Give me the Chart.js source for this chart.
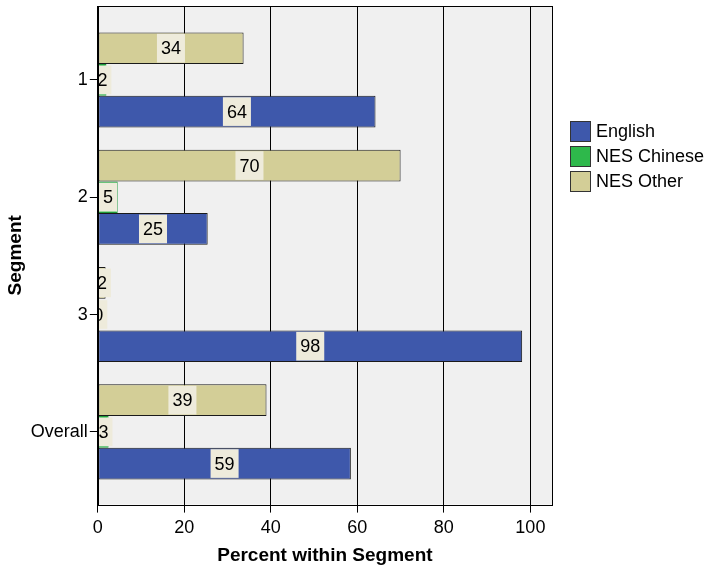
<!DOCTYPE html>
<html>
<head>
<meta charset="utf-8">
<script src="https://cdn.jsdelivr.net/npm/chart.js@4"></script>
<style>
  html, body { margin: 0; padding: 0; background: #fff; }
  #wrap { width: 713px; height: 568px; }
</style>
</head>
<body>
<div id="wrap"><canvas id="segChart"></canvas></div>
<script>
const segments = ["1", "2", "3", "Overall"];
const english = [64.2, 25.4, 98.1, 58.5];
const nesChinese = [2.0, 4.6, 0.1, 2.5];
const nesOther = [33.7, 70.0, 1.8, 39.0];
const xTicks = [0, 20, 40, 60, 80, 100];

const FONT = "'Liberation Sans', Arial, sans-serif";
Chart.defaults.font.family = FONT;
Chart.defaults.font.size = 18;
Chart.defaults.color = "#000";

const toPoints = arr => arr.map((v, i) => ({ x: v, y: i }));

// plot background + frame
const frame = {
    id: "frame",
    beforeDraw(chart) {
        const { ctx, chartArea: a } = chart;
        ctx.save();
        ctx.fillStyle = "#f0f0f0";
        ctx.fillRect(a.left, a.top, a.right - a.left, a.bottom - a.top);
        ctx.restore();
    },
    afterDraw(chart) {
        const { ctx, chartArea: a } = chart;
        ctx.save();
        ctx.strokeStyle = "#000";
        ctx.lineWidth = 1;
        ctx.strokeRect(Math.round(a.left) + 0.5, Math.round(a.top) + 0.5,
            Math.round(a.right - a.left), Math.round(a.bottom - a.top));
        ctx.restore();
    }
};

// value boxes centred on each bar
const valueLabels = {
    id: "valueLabels",
    afterDatasetsDraw(chart) {
        const { ctx, chartArea: a } = chart;
        ctx.save();
        ctx.beginPath();
        ctx.rect(a.left + 1, a.top, a.right - a.left, a.bottom - a.top);
        ctx.clip();
        ctx.font = "18px " + FONT;
        ctx.textAlign = "center";
        ctx.textBaseline = "middle";
        chart.data.datasets.forEach((ds, di) => {
            chart.getDatasetMeta(di).data.forEach((bar, i) => {
                const text = String(Math.round(ds.data[i].x));
                const cx = (bar.x + bar.base) / 2;
                const w = ctx.measureText(text).width + 8;
                const h = bar.height - 3;
                ctx.fillStyle = "#eeebdb";
                ctx.fillRect(cx - w / 2, bar.y - h / 2, w, h);
                ctx.fillStyle = "#000";
                ctx.fillText(text, cx, bar.y + 1);
            });
        });
        ctx.restore();
    }
};

// legend at the right, in reverse dataset order
const sideLegend = {
    id: "sideLegend",
    afterDraw(chart) {
        const { ctx, chartArea: a } = chart;
        const items = chart.data.datasets.slice().reverse();
        ctx.save();
        ctx.font = "18px " + FONT;
        ctx.textBaseline = "middle";
        ctx.textAlign = "left";
        items.forEach((ds, i) => {
            const x = Math.round(a.right) + 18;
            const y = Math.round(a.top) + 115 + i * 25;
            ctx.fillStyle = ds.backgroundColor;
            ctx.fillRect(x, y, 20, 20);
            ctx.strokeStyle = "#333";
            ctx.lineWidth = 1;
            ctx.strokeRect(x + 0.5, y + 0.5, 20, 20);
            ctx.fillStyle = "#000";
            ctx.fillText(ds.label, x + 26, y + 11);
        });
        ctx.restore();
    }
};

new Chart(document.getElementById("segChart"), {
    type: "bar",
    data: {
        datasets: [
            { label: "NES Other", data: toPoints(nesOther), backgroundColor: "#d3ce97", borderColor: "#1a1a1a" },
            { label: "NES Chinese", data: toPoints(nesChinese), backgroundColor: "#2eb84b", borderColor: "#1f9a3a" },
            { label: "English", data: toPoints(english), backgroundColor: "#3e58ab", borderColor: "#1a1a1a" }
        ]
    },
    options: {
        indexAxis: "y",
        responsive: true,
        maintainAspectRatio: false,
        animation: false,
        layout: { padding: { left: 1, top: 6, right: 161, bottom: 0 } },
        datasets: {
            bar: {
                categoryPercentage: 0.81,
                barPercentage: 1,
                borderWidth: 1,
                borderSkipped: false
            }
        },
        plugins: {
            legend: { display: false },
            tooltip: { enabled: false }
        },
        scales: {
            x: {
                min: 0,
                max: 105,
                afterBuildTicks: s => { s.ticks = xTicks.map(v => ({ value: v })); },
                afterFit: s => { s.paddingLeft = 0; s.paddingRight = 0; },
                ticks: { padding: 5, color: "#000", maxRotation: 0 },
                grid: { color: "#000", tickLength: 8 },
                border: { display: false },
                title: {
                    display: true,
                    text: "Percent within Segment",
                    font: { weight: "bold", size: 19 },
                    padding: { top: 0, bottom: 1 }
                }
            },
            y: {
                type: "linear",
                reverse: true,
                offset: false,
                min: -0.63,
                max: 3.62,
                afterBuildTicks: s => { s.ticks = segments.map((_, i) => ({ value: i })); },
                afterFit: s => { s.paddingTop = 0; s.paddingBottom = 0; },
                ticks: { callback: v => segments[v], padding: 2, color: "#000" },
                grid: { offset: false, drawOnChartArea: false, color: "#000", tickLength: 8 },
                border: { display: false },
                title: {
                    display: true,
                    text: "Segment",
                    font: { weight: "bold", size: 19 },
                    padding: { top: 3, bottom: 2 }
                }
            }
        }
    },
    plugins: [frame, valueLabels, sideLegend]
});
</script>
</body>
</html>
